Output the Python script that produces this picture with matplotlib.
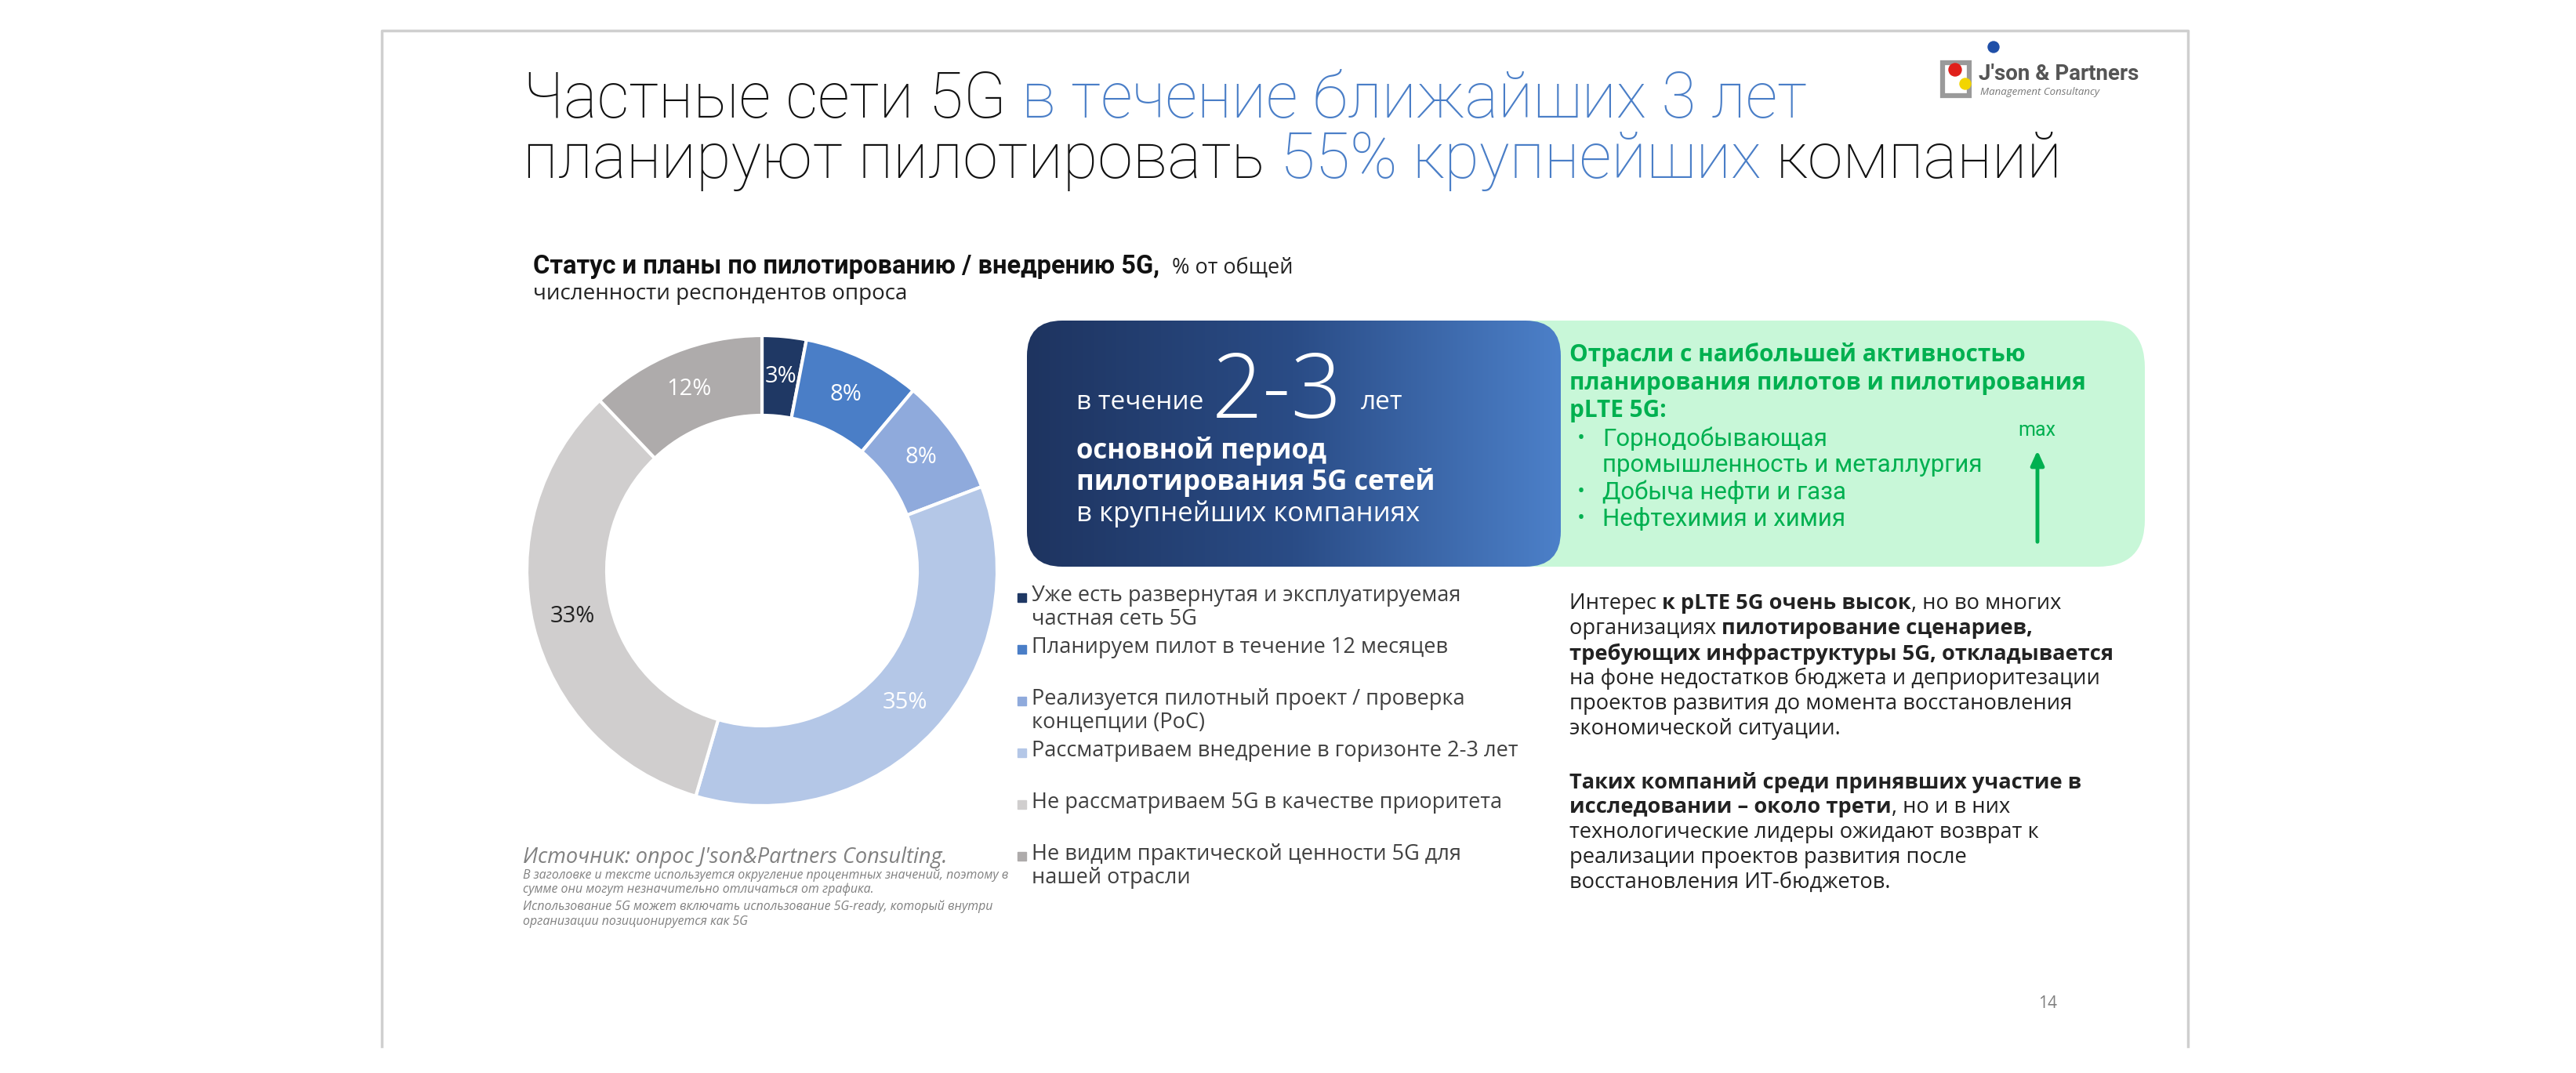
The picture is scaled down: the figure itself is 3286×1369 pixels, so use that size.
import numpy as np
import matplotlib
matplotlib.use("Agg")
import matplotlib.pyplot as plt
from matplotlib.patches import FancyBboxPatch, Rectangle, Circle
from matplotlib.colors import LinearSegmentedColormap

W, H = 3287, 1369

# ---- data ----
categories = [
    "Уже есть развернутая и эксплуатируемая\nчастная сеть 5G",
    "Планируем пилот в течение 12 месяцев",
    "Реализуется пилотный проект / проверка\nконцепции (PoC)",
    "Рассматриваем внедрение в горизонте 2-3 лет",
    "Не рассматриваем 5G в качестве приоритета",
    "Не видим практической ценности 5G для\nнашей отрасли",
]
values = [3, 8, 8, 35, 33, 12]
colors = ["#1F3864", "#4A7EC7", "#8FAADC", "#B4C7E7", "#D0CECE", "#AEABAB"]
label_colors = ["white", "white", "white", "white", "#222222", "white"]

title_lines = [
    [("Частные сети 5G ", "k"), ("в течение ближайших 3 лет", "b")],
    [("планируют пилотировать ", "k"), ("55% крупнейших", "b"), (" компаний", "k")],
]
industries = [["Горнодобывающая", "промышленность и металлургия"], ["Добыча нефти и газа"], ["Нефтехимия и химия"]]
paragraph = [
    [("Интерес ", "normal"), ("к pLTE 5G очень высок", "bold"), (", но во многих", "normal")],
    [("организациях ", "normal"), ("пилотирование сценариев,", "bold")],
    [("требующих инфраструктуры 5G, откладывается", "bold")],
    [("на фоне недостатков бюджета и деприоритезации", "normal")],
    [("проектов развития до момента восстановления", "normal")],
    [("экономической ситуации.", "normal")],
    None,
    [("Таких компаний среди принявших участие в", "bold")],
    [("исследовании – около трети", "bold"), (", но и в них", "normal")],
    [("технологические лидеры ожидают возврат к", "normal")],
    [("реализации проектов развития после", "normal")],
    [("восстановления ИТ-бюджетов.", "normal")],
]
notes = [
    "В заголовке и тексте используется округление процентных значений, поэтому в",
    "сумме они могут незначительно отличаться от графика.",
    "Использование 5G может включать использование 5G-ready, который внутри",
    "организации позиционируется как 5G",
]

FONT = ["Open Sans", "DejaVu Sans"]
NARROW = ["Roboto", "DejaVu Sans"]
LIGHT = ["Roboto", "DejaVu Sans"]
BLUE = "#4A7EC7"
GREEN = "#00B050"

fig = plt.figure(figsize=(W / 100, H / 100), dpi=100)
bg = fig.add_axes([0, 0, 1, 1])
bg.set_xlim(0, W)
bg.set_ylim(H, 0)
bg.axis("off")
renderer = fig.canvas.get_renderer()


def runs(x, y, parts, size, family, colormap=None, color="#333333"):
    for txt, key in parts:
        if colormap:
            c, w = colormap[key], "light"
        else:
            c, w = color, key
        t = bg.text(x, y, txt, fontsize=size, fontweight=w, color=c, family=family,
                    ha="left", va="center")
        x += t.get_window_extent(renderer=renderer).width
    return x


# slide frame
bg.plot([487, 487, 2791, 2791], [1335, 39, 39, 1335], color="#cfcfcf", lw=2.5)

# title
cmap_title = {"k": "#111111", "b": BLUE}
runs(667, 128, title_lines[0], 58, LIGHT, colormap=cmap_title)
runs(667, 205, title_lines[1], 58.5, LIGHT, colormap=cmap_title)

# logo
bg.add_patch(Rectangle((2478, 80), 34, 42, fill=False, ec="#9a9a9a", lw=4.5))
bg.add_patch(Circle((2543, 60), 7, color="#1F4FA8"))
bg.add_patch(Circle((2494, 89), 8, color="#E0201B"))
bg.add_patch(Circle((2507, 107), 7, color="#F2D500"))
bg.text(2524, 95, "J'son & Partners", fontsize=20, fontweight="bold", color="#555555",
        family=NARROW, va="center")
bg.text(2526, 117, "Management Consultancy", fontsize=9.5, color="#777777", family=FONT,
        va="center", style="italic")

# chart subtitle
xe = runs(680, 340, [("Статус и планы по пилотированию / внедрению 5G,", "bold")], 23.5, NARROW, color="#111111")
runs(xe + 16, 342, [("% от общей", "normal")], 19.5, FONT, color="#222222")
bg.text(680, 375, "численности респондентов опроса", fontsize=20, color="#222222",
        family=FONT, va="center")

# donut
cx, cy, R = 972, 728, 300
pax = fig.add_axes([(cx - R) / W, 1 - (cy + R) / H, 2 * R / W, 2 * R / H])
total = sum(values)
wedges, _, autotexts = pax.pie(
    values, colors=colors, startangle=90, counterclock=False,
    wedgeprops=dict(width=0.34, edgecolor="white", linewidth=3),
    autopct=lambda p: f"{p * total / 100:.0f}%", pctdistance=0.83,
    textprops=dict(fontsize=21, family=FONT))
for t, c in zip(autotexts, label_colors):
    t.set_color(c)
pax.set_xlim(-1, 1)
pax.set_ylim(-1, 1)
pax.set_aspect("equal")

# legend
for i, (cat, col) in enumerate(zip(categories, colors)):
    y = 763 + i * 66
    bg.add_patch(Rectangle((1298, y - 6), 11, 11, color=col))
    bg.text(1316, y - 17, cat, fontsize=19.5, color="#404040", family=FONT,
            ha="left", va="top", linespacing=1.08)

# source
bg.text(667, 1094, "Источник: опрос J'son&Partners Consulting.", fontsize=19.5, style="italic",
        color="#808080", family=FONT, va="center")
for i, line in enumerate(notes):
    y = [1117, 1135, 1157, 1176][i]
    bg.text(667, y, line, fontsize=11.4, style="italic", color="#808080", family=FONT, va="center")

# green box
bg.add_patch(FancyBboxPatch((1900, 409), 836, 314, boxstyle="round,pad=0,rounding_size=60",
                            fc="#C8F7D8", ec="none", zorder=1))
green_head = ["Отрасли с наибольшей активностью", "планирования пилотов и пилотирования", "pLTE 5G:"]
for i, line in enumerate(green_head):
    bg.text(2002, 453 + i * 35.5, line, fontsize=21.4, fontweight="bold", color=GREEN,
            family=FONT, va="center", zorder=3)
yy = 560
for item in industries:
    bg.text(2012, yy, "•", fontsize=19, color=GREEN, family=FONT, va="center", zorder=3)
    for part in item:
        bg.text(2044, yy, part, fontsize=22.5, color=GREEN, family=NARROW, va="center", zorder=3)
        yy += 34
bg.text(2598, 549, "max", fontsize=18, color=GREEN, family=NARROW, ha="center", va="center", zorder=3)
bg.annotate("", xy=(2599, 572), xytext=(2599, 694),
            arrowprops=dict(arrowstyle="-|>,head_width=0.5,head_length=1.1", color=GREEN, lw=3.5), zorder=3)

# blue gradient box
box = FancyBboxPatch((1310, 409), 681, 314, boxstyle="round,pad=0,rounding_size=45",
                     fc="none", ec="none", zorder=4)
bg.add_patch(box)
grad = LinearSegmentedColormap.from_list("g", ["#1E3460", "#2A4C86", "#4C80C9"])
img = bg.imshow(np.linspace(0, 1, 256)[None, :], cmap=grad, aspect="auto",
                extent=[1310, 1991, 723, 409], zorder=4)
img.set_clip_path(box)
bg.set_xlim(0, W)
bg.set_ylim(H, 0)

x = 1373
t = bg.text(x, 522, "в течение", fontsize=24, color="white", family=FONT, va="baseline", zorder=5)
x += t.get_window_extent(renderer=renderer).width + 10
t = bg.text(x, 533, "2-3", fontsize=82, color="white", family=FONT, fontweight="light",
            va="baseline", zorder=5)
x += t.get_window_extent(renderer=renderer).width + 24
bg.text(x, 522, "лет", fontsize=24, color="white", family=FONT, va="baseline", zorder=5)
bg.text(1373, 576, "основной период", fontsize=25, fontweight="bold", color="white",
        family=FONT, va="center", zorder=5)
bg.text(1373, 616, "пилотирования 5G сетей", fontsize=25, fontweight="bold", color="white",
        family=FONT, va="center", zorder=5)
bg.text(1373, 656, "в крупнейших компаниях", fontsize=25, color="white",
        family=FONT, va="center", zorder=5)

# right paragraph
y = 770
for line in paragraph:
    if line is None:
        y += 36
        continue
    runs(2002, y, line, 19.6, FONT, color="#222222")
    y += 32

# page number
bg.text(2612, 1281, "14", fontsize=15, color="#7f7f7f", family=FONT, ha="center", va="center")

fig.savefig("out.png", dpi=100)
